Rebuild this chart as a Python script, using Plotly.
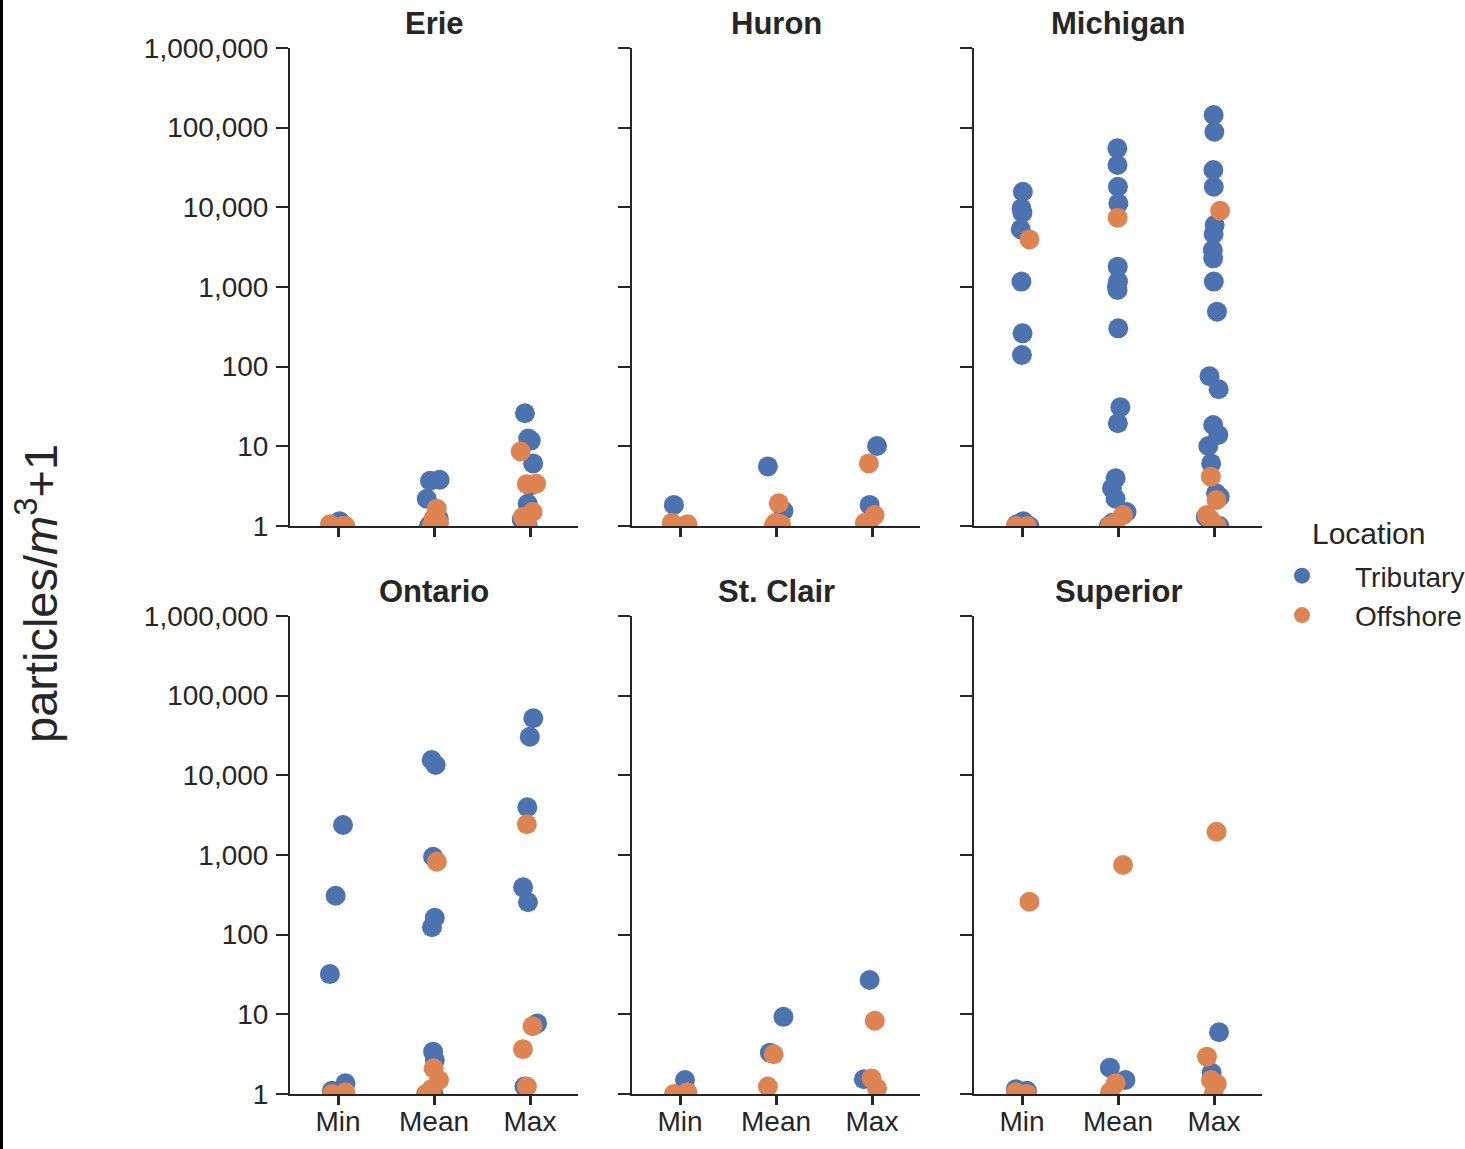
import plotly.graph_objects as go

# ---------------- data (particles/m^3 + 1) ----------------
LAKES = ["Erie", "Huron", "Michigan", "Ontario", "St. Clair", "Superior"]
STATS = ["Min", "Mean", "Max"]
LOCATIONS = ["Tributary", "Offshore"]
Y_TICK_VALUES = [1, 10, 100, 1000, 10000, 100000, 1000000]
Y_TICK_LABELS = ["1", "10", "100", "1,000", "10,000", "100,000", "1,000,000"]

# each list: [Min values, Mean values, Max values]
ERIE_TRIBUTARY = [
    [1.15, 1.1, 1.05, 1.0, 1.0, 1.0, 1.0, 1.0],
    [3.7, 3.8, 2.2, 1.25, 1.1, 1.0, 1.0, 1.0],
    [26, 12.5, 11.8, 6.1, 3.2, 1.9, 1.2, 1.0],
]
ERIE_OFFSHORE = [
    [1.05, 1.0, 1.0, 1.0],
    [1.65, 1.25, 1.1, 1.0],
    [8.6, 3.4, 3.35, 1.5, 1.3, 1.0],
]
HURON_TRIBUTARY = [
    [1.84, 1.0],
    [5.6, 1.55],
    [10.1, 1.84],
]
HURON_OFFSHORE = [
    [1.1, 1.0, 1.0, 1.05],
    [1.93, 1.1, 1.0, 1.05],
    [6.1, 1.37, 1.1, 1.0],
]
MICHIGAN_TRIBUTARY = [
    [15700, 9700, 8570, 5300, 1170, 262, 140, 1.15, 1.1, 1.05, 1.0, 1.0, 1.0],
    [55000, 34000, 18100, 11200, 1800, 1170, 1010, 917, 303, 31, 19.5,
     3.97, 2.97, 2.2, 1.5, 1.1, 1.0],
    [144000, 89000, 29400, 18100, 6000, 4620, 2910, 2290, 1170, 490, 76, 52,
     18.5, 13.9, 10.1, 6.1, 2.57, 2.33, 1.3, 1.0],
]
MICHIGAN_OFFSHORE = [
    [3960, 1.0, 1.0],
    [7400, 1.37, 1.1, 1.0],
    [9070, 4.16, 2.12, 1.37, 1.19, 1.0],
]
ONTARIO_TRIBUTARY = [
    [2380, 308, 32, 1.36, 1.1, 1.0],
    [15600, 13500, 952, 163, 124, 3.4, 2.67, 1.0],
    [52000, 30500, 3970, 393, 255, 7.7, 1.24],
]
ONTARIO_OFFSHORE = [
    [1.05, 1.0, 1.0],
    [824, 2.1, 1.5, 1.15, 1.0],
    [2430, 7.1, 3.64, 1.24],
]
STCLAIR_TRIBUTARY = [
    [1.5],
    [9.3, 3.3],
    [27, 1.53],
]
STCLAIR_OFFSHORE = [
    [1.05, 1.0, 1.0],
    [3.15, 1.24],
    [8.3, 1.57, 1.18],
]
SUPERIOR_TRIBUTARY = [
    [1.15, 1.1],
    [2.14, 1.5],
    [5.95, 1.85],
]
SUPERIOR_OFFSHORE = [
    [259, 1.05, 1.0],
    [749, 1.36, 1.05],
    [1960, 2.94, 1.5, 1.34, 1.0],
]

DATA = {
    "Erie": (ERIE_TRIBUTARY, ERIE_OFFSHORE),
    "Huron": (HURON_TRIBUTARY, HURON_OFFSHORE),
    "Michigan": (MICHIGAN_TRIBUTARY, MICHIGAN_OFFSHORE),
    "Ontario": (ONTARIO_TRIBUTARY, ONTARIO_OFFSHORE),
    "St. Clair": (STCLAIR_TRIBUTARY, STCLAIR_OFFSHORE),
    "Superior": (SUPERIOR_TRIBUTARY, SUPERIOR_OFFSHORE),
}

# ---------------- styling ----------------
W, H = 1465, 1149
COLORS = {"Tributary": "#4C72B0", "Offshore": "#DD8452"}
FONT = "Liberation Sans, Arial, sans-serif"
INK = "#262626"
MARKER_SIZE = 20
TICK_FONT = 28

# panel pixel boxes
COL_PX = [(290, 578), (632, 920), (974, 1262)]
ROW_PX = [(48, 526), (616, 1094)]


def xdom(c):
    a, b = COL_PX[c]
    return [a / W, b / W]


def ydom(r):
    top, bot = ROW_PX[r]
    return [1 - bot / H, 1 - top / H]


fig = go.Figure()
layout = dict(
    width=W, height=H,
    margin=dict(l=0, r=0, t=0, b=0, autoexpand=False),
    paper_bgcolor="white", plot_bgcolor="white",
    boxmode="overlay",
    font=dict(family=FONT, color=INK, size=TICK_FONT),
    annotations=[], shapes=[],
)

for i, lake in enumerate(LAKES):
    r, c = divmod(i, 3)
    n = i + 1
    xa = "x" if n == 1 else f"x{n}"
    ya = "y" if n == 1 else f"y{n}"
    for loc, series in zip(LOCATIONS, DATA[lake]):
        xs, ys = [], []
        for stat, vals in zip(STATS, series):
            xs += [stat] * len(vals)
            ys += list(vals)
        fig.add_trace(go.Box(
            x=xs, y=ys, name=loc, xaxis=xa, yaxis=ya,
            boxpoints="all", jitter=1, pointpos=0, width=0.2,
            fillcolor="rgba(0,0,0,0)", line=dict(color="rgba(0,0,0,0)", width=0),
            whiskerwidth=0,
            marker=dict(color=COLORS[loc], size=MARKER_SIZE, opacity=1,
                        line=dict(width=0)),
            showlegend=False, hoverinfo="y",
        ))
    layout["xaxis" if n == 1 else f"xaxis{n}"] = dict(
        domain=xdom(c), anchor=ya, type="category",
        categoryorder="array", categoryarray=STATS, range=[-0.5, 2.5],
        showline=True, linecolor=INK, linewidth=2,
        ticks="outside", ticklen=9, tickwidth=3, tickcolor=INK,
        showticklabels=(r == 1), tickfont=dict(size=TICK_FONT, color=INK),
        ticklabelstandoff=-8,
        showgrid=False, zeroline=False, fixedrange=True,
    )
    layout["yaxis" if n == 1 else f"yaxis{n}"] = dict(
        domain=ydom(r), anchor=xa, type="log", range=[0, 6],
        tickvals=Y_TICK_VALUES, ticktext=Y_TICK_LABELS,
        showline=True, linecolor=INK, linewidth=2,
        ticks="outside", ticklen=12, tickwidth=2, tickcolor=INK,
        showticklabels=(c == 0), tickfont=dict(size=TICK_FONT, color=INK),
        ticklabelstandoff=2,
        showgrid=False, zeroline=False, fixedrange=True,
    )
    xd = xdom(c)
    layout["annotations"].append(dict(
        text=f"<b>{lake}</b>", xref="paper", yref="paper",
        x=(xd[0] + xd[1]) / 2, y=1 - (ROW_PX[r][0] - 25) / H,
        xanchor="center", yanchor="middle", showarrow=False,
        font=dict(size=31, color=INK, family=FONT),
    ))

# legend entries
for loc in LOCATIONS:
    fig.add_trace(go.Scatter(
        x=[None], y=[None], mode="markers", name=loc,
        marker=dict(color=COLORS[loc], size=MARKER_SIZE),
        xaxis="x", yaxis="y", showlegend=True,
    ))

# legend: symbol centre at 1302 px, text starting at 1355 px
LEG_ITEMWIDTH = 96
layout["legend"] = dict(
    font=dict(size=TICK_FONT, color=INK, family=FONT),
    x=(1302 - (LEG_ITEMWIDTH / 2 + 5)) / W, xanchor="left",
    y=1 - 551 / H, yanchor="top",
    bgcolor="rgba(0,0,0,0)", borderwidth=0, itemsizing="trace",
    itemwidth=LEG_ITEMWIDTH, tracegroupgap=0,
)
# legend title
layout["annotations"].append(dict(
    text="Location", xref="paper", yref="paper",
    x=1310 / W, y=1 - 533 / H, xanchor="left", yanchor="middle",
    showarrow=False, font=dict(size=30, color=INK, family=FONT),
))

# y-axis title
layout["annotations"].append(dict(
    text="particles/<i>m</i><sup>3</sup>+1", xref="paper", yref="paper",
    x=37 / W, y=1 - 594 / H, xanchor="center", yanchor="middle",
    textangle=-90, showarrow=False, font=dict(size=47, color=INK, family=FONT),
))

# frame line along the left edge of the picture
layout["shapes"].append(dict(
    type="line", xref="paper", yref="paper", x0=1.5 / W, x1=1.5 / W, y0=0, y1=1,
    line=dict(color="black", width=3),
))

fig.update_layout(**layout)
fig.write_html("out.html", config={"displayModeBar": False},
               post_script="document.body.style.margin='0';")
